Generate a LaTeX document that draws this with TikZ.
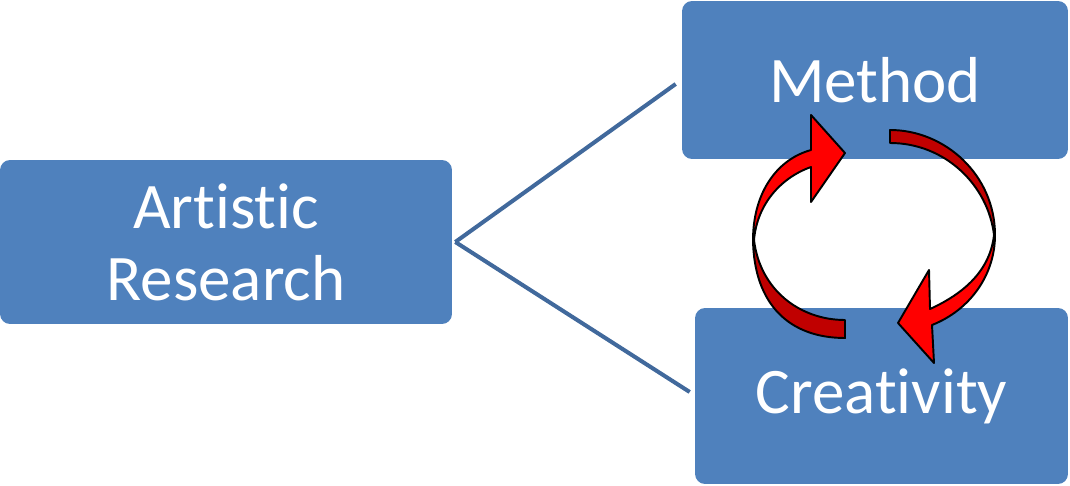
\documentclass[tikz,border=0pt]{standalone}
\usepackage{fontspec}
\setmainfont{Carlito}[Ligatures={NoCommon,NoContextual,NoRare}]
\definecolor{boxblue}{HTML}{4F81BD}
\definecolor{linkblue}{HTML}{41699C}
\definecolor{arrowred}{HTML}{FF0000}
\definecolor{backred}{HTML}{C00000}
\tikzset{
  box/.style={fill=boxblue, rounded corners=0.2cm, text=white, align=center,
              font=\fontsize{37}{41}\selectfont, inner sep=0pt},
  link/.style={draw=linkblue, line width=2.3pt},
  front/.style={fill=arrowred, draw=black, line width=1.1pt, line join=round},
  back/.style={fill=backred, draw=black, line width=1.1pt, line join=round}
}
% keep t and i apart (Carlito joins them)
\newcommand{\tisep}{\kern0pt}

\begin{document}
\begin{tikzpicture}[x=0.02cm, y=-0.02cm]
    \useasboundingbox (0,0) rectangle (1070,486);

    % boxes
    \node[box, minimum width=9.04cm, minimum height=3.28cm] (art)    at (226,242)   {Artist\tisep ic\\Research};
    \node[box, minimum width=7.72cm, minimum height=3.16cm] (method) at (875,80)    {Method};
    \node[box, minimum width=7.46cm, minimum height=3.52cm] (crea)   at (881.5,396) {Creat\tisep ivity};

    % fork
    \coordinate (fork) at ([xshift=0.06cm]art.east);
    \coordinate (mend) at ([xshift=-0.12cm,yshift=-0.08cm]method.west);
    \coordinate (cend) at ([xshift=-0.1cm,yshift=0.08cm]crea.west);
    \draw[link] (fork) -- (mend);
    \draw[link] (fork) -- (cend);

    % left arrow, creativity -> method
    \draw[back]  (753,240) .. controls (754,305) and (790,338) .. (845,338)
                 -- (845,320) .. controls (800,320) and (760,290) .. (754,240) -- cycle;
    \draw[front] (753,240) .. controls (753,195) and (775,160) .. (811,150)
                 -- (811,115) -- (845,153) -- (811,202) -- (811,167)
                 .. controls (780,178) and (757,205) .. (754,240) -- cycle;

    % right arrow, method -> creativity
    \draw[back]  (890,130) .. controls (945,130) and (995,175) .. (995,235)
                 -- (994,235) .. controls (988,185) and (945,143) .. (890,143) -- cycle;
    \draw[front] (995,235) .. controls (995,275) and (970,310) .. (932,325)
                 -- (934,363) -- (898,323) -- (929,270) -- (930,309)
                 .. controls (965,293) and (990,270) .. (994,235) -- cycle;

\end{tikzpicture}
\end{document}
